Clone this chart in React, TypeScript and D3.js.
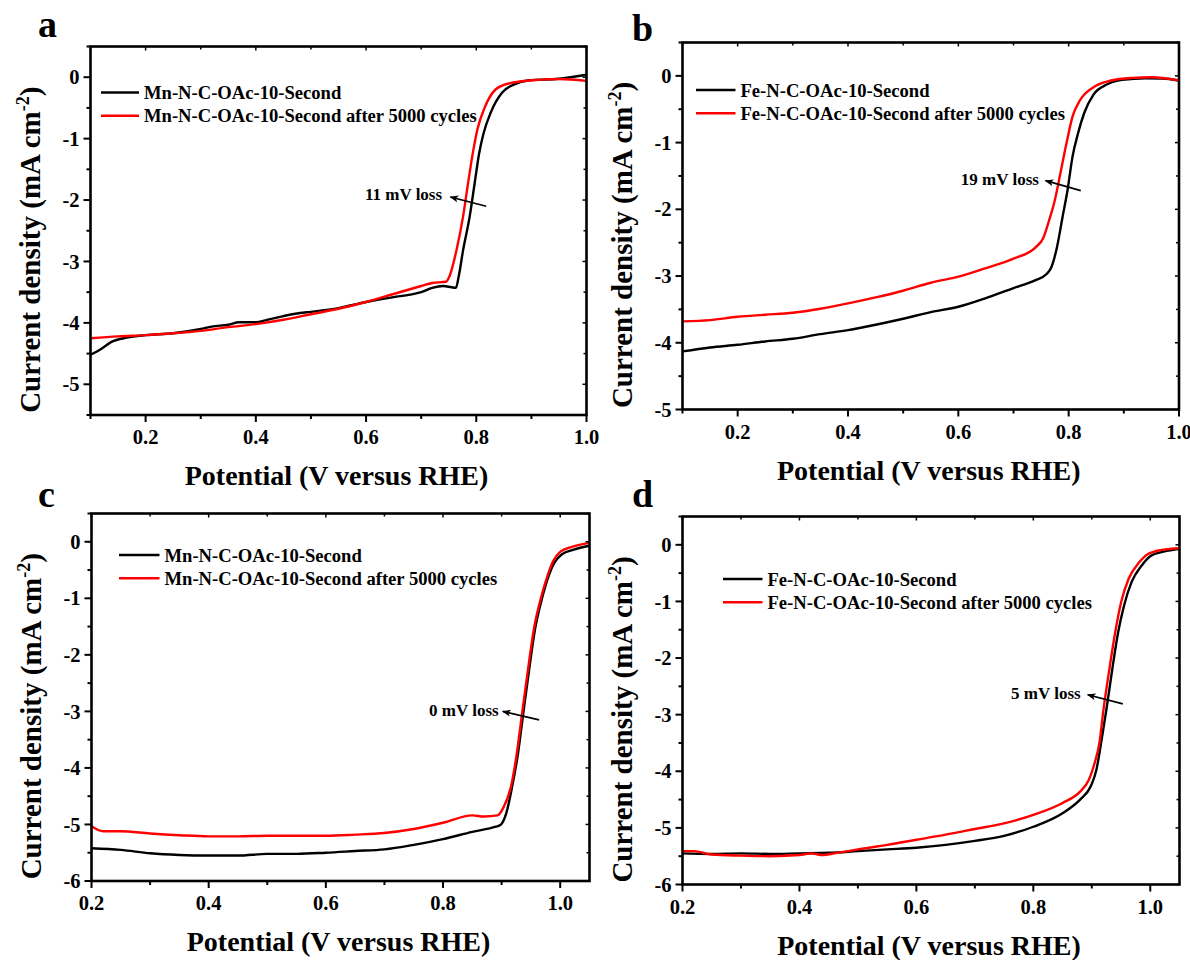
import React from 'react';
import * as d3 from 'd3';

type Pt = [number, number];

const FONT = '"Liberation Serif", "Times New Roman", Times, serif';

// Potential (V vs RHE), current density (mA cm-2)
const mnFirst: Pt[] = [
  [0.10, -4.52], [0.12, -4.42], [0.138, -4.31], [0.166, -4.24], [0.20, -4.20], [0.25, -4.17],
  [0.30, -4.10], [0.32, -4.06], [0.35, -4.03], [0.37, -3.99], [0.40, -3.99], [0.42, -3.95],
  [0.45, -3.89], [0.48, -3.84], [0.50, -3.82], [0.55, -3.76], [0.60, -3.66], [0.65, -3.58],
  [0.68, -3.54], [0.70, -3.50], [0.72, -3.43], [0.74, -3.40], [0.755, -3.42], [0.763, -3.43],
  [0.768, -3.25], [0.776, -2.82], [0.788, -2.27], [0.797, -1.73], [0.805, -1.25], [0.813, -0.92],
  [0.826, -0.58], [0.847, -0.25], [0.868, -0.12], [0.896, -0.05], [0.945, -0.03], [1.0, 0.04],
];
const mnFirstCycled: Pt[] = [
  [0.10, -4.25], [0.15, -4.22], [0.20, -4.20], [0.25, -4.17], [0.30, -4.13], [0.35, -4.07],
  [0.40, -4.02], [0.45, -3.95], [0.50, -3.86], [0.55, -3.77], [0.60, -3.66], [0.65, -3.53],
  [0.70, -3.40], [0.72, -3.35], [0.745, -3.33], [0.751, -3.25], [0.764, -2.82], [0.776, -2.27],
  [0.785, -1.73], [0.794, -1.22], [0.802, -0.85], [0.815, -0.50], [0.835, -0.20], [0.86, -0.10],
  [0.915, -0.04], [0.95, -0.03], [1.0, -0.06],
];

const feFirst: Pt[] = [
  [0.10, -4.13], [0.15, -4.07], [0.20, -4.03], [0.25, -3.98], [0.30, -3.94], [0.35, -3.87],
  [0.40, -3.81], [0.45, -3.73], [0.50, -3.64], [0.55, -3.54], [0.60, -3.46], [0.65, -3.33],
  [0.70, -3.18], [0.74, -3.06], [0.76, -2.97], [0.769, -2.86], [0.779, -2.56], [0.789, -2.11],
  [0.798, -1.71], [0.807, -1.21], [0.817, -0.86], [0.828, -0.56], [0.845, -0.28], [0.869, -0.13],
  [0.897, -0.06], [0.94, -0.035], [0.97, -0.04], [1.0, -0.07],
];
const feFirstCycled: Pt[] = [
  [0.10, -3.68], [0.15, -3.66], [0.20, -3.61], [0.25, -3.58], [0.30, -3.55], [0.35, -3.49],
  [0.40, -3.41], [0.45, -3.32], [0.50, -3.22], [0.55, -3.10], [0.60, -3.01], [0.65, -2.88],
  [0.70, -2.74], [0.74, -2.57], [0.754, -2.43], [0.764, -2.18], [0.775, -1.86], [0.785, -1.46],
  [0.796, -1.01], [0.807, -0.61], [0.821, -0.36], [0.845, -0.17], [0.877, -0.07], [0.915, -0.03],
  [0.95, -0.02], [1.0, -0.07],
];

const mnSecond: Pt[] = [
  [0.20, -5.42], [0.25, -5.45], [0.30, -5.51], [0.35, -5.54], [0.40, -5.55], [0.45, -5.55],
  [0.50, -5.52], [0.55, -5.52], [0.60, -5.50], [0.65, -5.47], [0.70, -5.44], [0.75, -5.36],
  [0.80, -5.26], [0.85, -5.13], [0.89, -5.04], [0.898, -5.01], [0.908, -4.80], [0.918, -4.33],
  [0.928, -3.74], [0.937, -3.03], [0.947, -2.26], [0.957, -1.55], [0.97, -0.96], [0.98, -0.61],
  [0.99, -0.37], [1.003, -0.22], [1.023, -0.14], [1.05, -0.07],
];
const mnSecondCycled: Pt[] = [
  [0.20, -5.03], [0.22, -5.12], [0.25, -5.12], [0.30, -5.16], [0.35, -5.19], [0.40, -5.21],
  [0.45, -5.21], [0.50, -5.20], [0.55, -5.20], [0.60, -5.20], [0.65, -5.18], [0.70, -5.15],
  [0.75, -5.08], [0.80, -4.97], [0.85, -4.84], [0.87, -4.86], [0.893, -4.84], [0.904, -4.68],
  [0.916, -4.33], [0.926, -3.74], [0.935, -3.03], [0.945, -2.26], [0.955, -1.55], [0.968, -0.96],
  [0.978, -0.61], [0.988, -0.34], [1.0, -0.18], [1.02, -0.09], [1.05, -0.02],
];

const feSecond: Pt[] = [
  [0.20, -5.45], [0.25, -5.46], [0.30, -5.45], [0.35, -5.46], [0.40, -5.45], [0.45, -5.44],
  [0.50, -5.41], [0.55, -5.38], [0.60, -5.35], [0.65, -5.30], [0.70, -5.23], [0.75, -5.14],
  [0.80, -4.98], [0.85, -4.74], [0.88, -4.50], [0.898, -4.27], [0.908, -3.97], [0.915, -3.56],
  [0.925, -2.91], [0.935, -2.20], [0.945, -1.55], [0.955, -1.08], [0.968, -0.66], [0.985, -0.37],
  [1.0, -0.20], [1.023, -0.12], [1.05, -0.07],
];
const feSecondCycled: Pt[] = [
  [0.20, -5.41], [0.22, -5.41], [0.25, -5.47], [0.30, -5.49], [0.35, -5.50], [0.40, -5.48],
  [0.42, -5.45], [0.44, -5.48], [0.46, -5.45], [0.50, -5.38], [0.55, -5.30], [0.60, -5.21],
  [0.65, -5.12], [0.70, -5.02], [0.75, -4.92], [0.80, -4.77], [0.85, -4.56], [0.88, -4.36],
  [0.895, -4.15], [0.905, -3.85], [0.913, -3.50], [0.92, -2.91], [0.93, -2.20], [0.94, -1.55],
  [0.95, -1.02], [0.963, -0.60], [0.981, -0.31], [0.995, -0.17], [1.02, -0.09], [1.05, -0.06],
];

const mnNames: [string, string] = ['Mn-N-C-OAc-10-Second', 'Mn-N-C-OAc-10-Second after 5000 cycles'];
const feNames: [string, string] = ['Fe-N-C-OAc-10-Second', 'Fe-N-C-OAc-10-Second after 5000 cycles'];

const xTicksWide = [0.2, 0.4, 0.6, 0.8, 1.0];
const yTicksA = [0, -1, -2, -3, -4, -5];
const yTicksB = [0, -1, -2, -3, -4, -5];
const yTicksCD = [0, -1, -2, -3, -4, -5, -6];

const lossLabels = ['11 mV loss', '19 mV loss', '0 mV loss', '5 mV loss'];

interface Note {
  label: string;
  tx: number; ty: number; // text end, data units
  x1: number; y1: number; // arrow tail
  x2: number; y2: number; // arrow head
}

interface Panel {
  letter: string;
  box: { left: number; top: number; right: number; bottom: number };
  letterPos: [number, number];
  xDomain: [number, number];
  yDomain: [number, number];
  xTicks: number[];
  yTicks: number[];
  series: [Pt[], Pt[]];
  names: [string, string];
  legend: { x0: number; x1: number; y: number };
  note: Note;
}

const panels: Panel[] = [
  {
    letter: 'a',
    box: { left: 90.5, top: 46.5, right: 586.5, bottom: 415 },
    letterPos: [38, 37],
    xDomain: [0.1, 1.0],
    yDomain: [-5.5, 0.5],
    xTicks: xTicksWide,
    yTicks: yTicksA,
    series: [mnFirst, mnFirstCycled],
    names: mnNames,
    legend: { x0: 10.5, x1: 48.5, y: 46 },
    note: { label: lossLabels[0], tx: 0.738, ty: -2.0, x1: 0.818, y1: -2.1, x2: 0.753, y2: -1.95 },
  },
  {
    letter: 'b',
    box: { left: 682.5, top: 42.5, right: 1179, bottom: 409.5 },
    letterPos: [632, 41],
    xDomain: [0.1, 1.0],
    yDomain: [-5, 0.5],
    xTicks: xTicksWide,
    yTicks: yTicksB,
    series: [feFirst, feFirstCycled],
    names: feNames,
    legend: { x0: 13.5, x1: 53, y: 47.5 },
    note: { label: lossLabels[1], tx: 0.746, ty: -1.634, x1: 0.822, y1: -1.72, x2: 0.758, y2: -1.57 },
  },
  {
    letter: 'c',
    box: { left: 91.5, top: 513.5, right: 589.5, bottom: 881 },
    letterPos: [38, 507],
    xDomain: [0.2, 1.05],
    yDomain: [-6, 0.5],
    xTicks: xTicksWide,
    yTicks: yTicksCD,
    series: [mnSecond, mnSecondCycled],
    names: mnNames,
    legend: { x0: 27.5, x1: 68, y: 41.5 },
    note: { label: lossLabels[2], tx: 0.895, ty: -3.08, x1: 0.964, y1: -3.15, x2: 0.902, y2: -3.0 },
  },
  {
    letter: 'd',
    box: { left: 682.5, top: 516.5, right: 1179.5, bottom: 884.5 },
    letterPos: [632, 507],
    xDomain: [0.2, 1.05],
    yDomain: [-6, 0.5],
    xTicks: xTicksWide,
    yTicks: yTicksCD,
    series: [feSecond, feSecondCycled],
    names: feNames,
    legend: { x0: 40.5, x1: 80, y: 62.5 },
    note: { label: lossLabels[3], tx: 0.881, ty: -2.72, x1: 0.953, y1: -2.81, x2: 0.893, y2: -2.65 },
  },
];

const COLORS = ['#000000', '#ff0000'];

function rangeStep(a: number, b: number, step: number): number[] {
  const out: number[] = [];
  const n = Math.floor((b - a) / step + 1e-6);
  for (let i = 0; i <= n; i++) out.push(Math.round((a + i * step) * 1000) / 1000);
  return out;
}

function PanelView({ p }: { p: Panel }) {
  const { left, top, right, bottom } = p.box;
  const x = d3.scaleLinear().domain(p.xDomain).range([left, right]);
  const y = d3.scaleLinear().domain(p.yDomain).range([bottom, top]);
  const line = d3
    .line<Pt>()
    .x((d) => x(d[0]))
    .y((d) => y(d[1]))
    .curve(d3.curveMonotoneX);

  const xMinor = rangeStep(Math.ceil(p.xDomain[0] * 10 - 1e-6) / 10, p.xDomain[1], 0.1);
  const yMinor = rangeStep(p.yDomain[0], p.yDomain[1], 0.5);
  const clipId = `clip-${p.letter}`;
  const arrowId = `arrow-${p.letter}`;
  const midY = (top + bottom) / 2;
  const midX = (left + right) / 2;

  return (
    <g>
      <defs>
        <clipPath id={clipId}>
          <rect x={left} y={top} width={right - left} height={bottom - top} />
        </clipPath>
        <marker
          id={arrowId}
          viewBox="0 0 10 8"
          refX="9"
          refY="4"
          markerWidth="10"
          markerHeight="7"
          orient="auto"
          markerUnits="userSpaceOnUse"
        >
          <path d="M10,4 L0,0 L2.5,4 L0,8 Z" fill="#000" />
        </marker>
      </defs>

      <text x={p.letterPos[0]} y={p.letterPos[1]} fontFamily={FONT} fontWeight="bold" fontSize={38}>
        {p.letter}
      </text>

      {/* curves */}
      <g clipPath={`url(#${clipId})`}>
        {p.series.map((s, i) => (
          <path key={i} d={line(s) ?? ''} fill="none" stroke={COLORS[i]} strokeWidth={2.4} strokeLinejoin="round" />
        ))}
      </g>

      {/* bottom and top ticks */}
      {xMinor.map((v) => {
        const major = p.xTicks.some((t) => Math.abs(t - v) < 1e-6);
        return (
          <g key={`xt${v}`}>
            <line x1={x(v)} x2={x(v)} y1={bottom} y2={bottom + (major ? 7 : 4)} stroke="#000" strokeWidth={2} />
            <line x1={x(v)} x2={x(v)} y1={top} y2={top + (major ? 4 : 3)} stroke="#000" strokeWidth={1.5} />
          </g>
        );
      })}
      {/* left and right ticks */}
      {yMinor.map((v) => {
        const major = p.yTicks.some((t) => Math.abs(t - v) < 1e-6);
        return (
          <g key={`yt${v}`}>
            <line x1={left} x2={left - (major ? 7 : 4)} y1={y(v)} y2={y(v)} stroke="#000" strokeWidth={2} />
            <line x1={right} x2={right - (major ? 4 : 3)} y1={y(v)} y2={y(v)} stroke="#000" strokeWidth={1.5} />
          </g>
        );
      })}

      <rect x={left} y={top} width={right - left} height={bottom - top} fill="none" stroke="#000" strokeWidth={2.6} />

      {/* tick labels */}
      {p.xTicks.map((v) => (
        <text key={`xl${v}`} x={x(v)} y={bottom + 29} textAnchor="middle" fontFamily={FONT} fontWeight="bold" fontSize={20.5}>
          {v.toFixed(1)}
        </text>
      ))}
      {p.yTicks.map((v) => (
        <text key={`yl${v}`} x={left - 11} y={y(v)} dy="0.35em" textAnchor="end" fontFamily={FONT} fontWeight="bold" fontSize={20.5}>
          {String(v)}
        </text>
      ))}

      {/* axis titles */}
      <text x={midX - 2} y={bottom + 70} textAnchor="middle" fontFamily={FONT} fontWeight="bold" fontSize={28}>
        Potential (V versus RHE)
      </text>
      <text
        transform={`translate(${left - 51},${midY + 19}) rotate(-90)`}
        textAnchor="middle"
        fontFamily={FONT}
        fontWeight="bold"
        fontSize={29}
      >
        Current density (mA cm
        <tspan dy={-11} fontSize={18}>-2</tspan>
        <tspan dy={11}>)</tspan>
      </text>

      {/* legend */}
      {p.names.map((name, i) => {
        const ly = top + p.legend.y + i * 23.3;
        return (
          <g key={name}>
            <line x1={left + p.legend.x0} x2={left + p.legend.x1} y1={ly} y2={ly} stroke={COLORS[i]} strokeWidth={2.6} />
            <text x={left + p.legend.x1 + 5} y={ly + 6.6} fontFamily={FONT} fontWeight="bold" fontSize={18.6}>
              {name}
            </text>
          </g>
        );
      })}

      {/* half-wave shift annotation */}
      <text x={x(p.note.tx)} y={y(p.note.ty)} textAnchor="end" fontFamily={FONT} fontWeight="bold" fontSize={17}>
        {p.note.label}
      </text>
      <line
        x1={x(p.note.x1)}
        y1={y(p.note.y1)}
        x2={x(p.note.x2)}
        y2={y(p.note.y2)}
        stroke="#000"
        strokeWidth={1.6}
        markerEnd={`url(#${arrowId})`}
      />
    </g>
  );
}

export default function App() {
  return (
    <svg
      width={1190}
      height={960}
      viewBox="0 0 1190 960"
      style={{ position: 'absolute', left: 0, top: 0, background: '#fff' }}
    >
      <rect width={1190} height={960} fill="#fff" />
      {panels.map((p) => (
        <PanelView key={p.letter} p={p} />
      ))}
    </svg>
  );
}
